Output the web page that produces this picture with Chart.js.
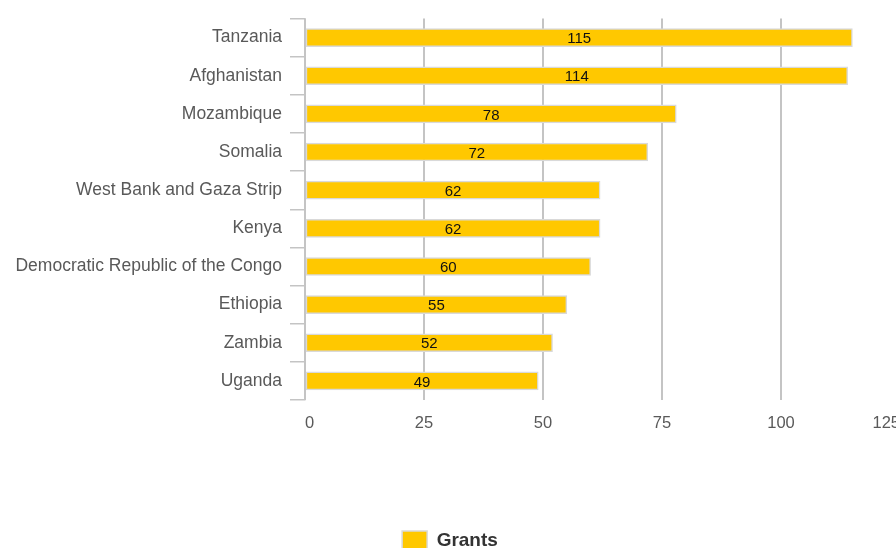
<!DOCTYPE html>
<html lang="en">

<head>
    <meta charset="UTF-8" />
    <title>Grants</title>
    <script src="https://cdn.jsdelivr.net/npm/chart.js"></script>
    <style>
        html, body { margin: 0; padding: 0; width: 896px; height: 548px; overflow: hidden; background: #fff; }
        canvas { display: block; }
    </style>
</head>

<body>
    <canvas id="chart" width="900" height="560"></canvas>
    <script>
        var countries = ["Tanzania", "Afghanistan", "Mozambique", "Somalia", "West Bank and Gaza Strip",
            "Kenya", "Democratic Republic of the Congo", "Ethiopia", "Zambia", "Uganda"];
        var grants = [115, 114, 78, 72, 62, 62, 60, 55, 52, 49];
        var xTicks = [0, 25, 50, 75, 100, 125];

        var font = "'Liberation Sans', Arial, sans-serif";

        // value labels in the middle of each bar
        var barLabels = {
            id: "barLabels",
            afterDatasetsDraw: function (chart) {
                var ctx = chart.ctx;
                var meta = chart.getDatasetMeta(0);
                ctx.save();
                ctx.font = "15px " + font;
                ctx.fillStyle = "#111";
                ctx.textAlign = "center";
                ctx.textBaseline = "middle";
                meta.data.forEach(function (bar, i) {
                    var x = (bar.x + bar.base) / 2;
                    ctx.fillText(chart.data.datasets[0].data[i], x, bar.y + 1.5);
                });
                ctx.restore();
            }
        };

        var ctx = document.getElementById("chart").getContext("2d");
        var myChart = new Chart(ctx, {
            type: "bar",
            data: {
                labels: countries,
                datasets: [{
                    label: "Grants",
                    data: grants,
                    backgroundColor: "#FFC800",
                    borderColor: "#d9d9d9",
                    borderWidth: 1.5,
                    borderSkipped: false,
                    barThickness: 18,
                }],
            },
            plugins: [barLabels],
            options: {
                indexAxis: "y",
                responsive: false,
                animation: false,
                layout: { padding: { top: 14, right: 0, left: 0, bottom: 0 } },
                plugins: {
                    tooltip: { enabled: false },
                    legend: {
                        position: "bottom",
                        labels: {
                            boxWidth: 25,
                            boxHeight: 19,
                            padding: 10,
                            color: "#333",
                            font: { family: font, size: 19, weight: "bold" },
                        },
                    },
                },
                scales: {
                    x: {
                        min: 0,
                        max: 125,
                        afterBuildTicks: function (scale) {
                            scale.ticks = xTicks.map(function (v) { return { value: v }; });
                        },
                        afterFit: function (scale) {
                            scale.height = 121;
                            scale.paddingRight = 0;
                        },
                        border: { display: false },
                        grid: { color: "#c4c4c4", lineWidth: 2, drawTicks: false },
                        ticks: {
                            padding: 14,
                            align: "inner",
                            color: "#595959",
                            font: { family: font, size: 16.5 },
                        },
                    },
                    y: {
                        afterFit: function (scale) { scale.width = 305; },
                        border: { display: true, color: "#c4c4c4", width: 1.5 },
                        grid: { color: "#c4c4c4", lineWidth: 1.5, drawOnChartArea: false, tickLength: 15 },
                        ticks: {
                            padding: 8,
                            color: "#595959",
                            font: { family: font, size: 17.5 },
                        },
                    },
                },
            },
        });
    </script>
</body>

</html>
